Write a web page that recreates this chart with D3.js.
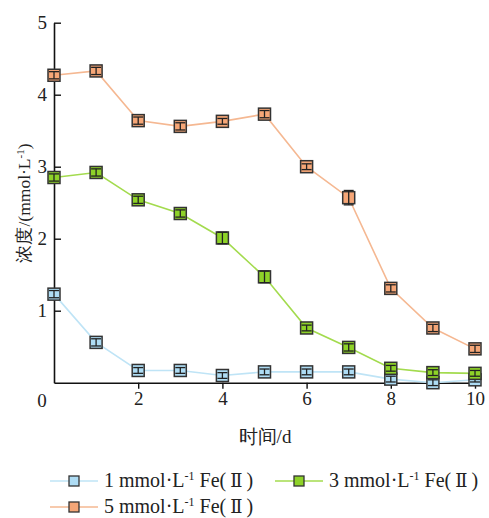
<!DOCTYPE html>
<html><head><meta charset="utf-8">
<script src="https://cdn.jsdelivr.net/npm/d3@7"></script>
<style>body{margin:0;background:#fff} svg text{font-family:"Liberation Serif","Times New Roman",serif;}</style>
</head><body>
<svg id="c" width="489" height="518"></svg>
<script>
const days = [0,1,2,3,4,5,6,7,8,9,10];
const s1 = [1.23,0.56,0.17,0.17,0.10,0.15,0.15,0.15,0.05,0.00,0.04];
const e1 = [0.05,0.05,0.04,0.04,0.04,0.04,0.04,0.04,0.04,0.04,0.03];
const s3 = [2.85,2.92,2.54,2.35,2.01,1.47,0.76,0.49,0.20,0.14,0.13];
const e3 = [0.05,0.05,0.05,0.05,0.08,0.08,0.04,0.05,0.04,0.04,0.04];
const s5 = [4.27,4.33,3.64,3.56,3.63,3.73,3.00,2.57,1.31,0.76,0.47];
const e5 = [0.05,0.05,0.05,0.05,0.04,0.05,0.04,0.10,0.05,0.05,0.05];
const seriesNames = ["1 mmol·L","3 mmol·L","5 mmol·L"];
const fills = ["#aedcf4","#8ed228","#f5a677"];
const lines = ["#bfe4f6","#a3db4e","#f5b892"];
const xTicks = [0,2,4,6,8,10];
const yTicks = [1,2,3,4,5];

const svg = d3.select("#c");
const x = d3.scaleLinear().domain([0,10]).range([54,475]);
const y = d3.scaleLinear().domain([0,5]).range([382.7,22.7]);

// axes
const gx = svg.append("g").attr("transform","translate(0,382.7)")
  .call(d3.axisBottom(x).tickValues(xTicks.filter(d=>d>0)).tickFormat(d3.format("d")).tickSize(6).tickPadding(3).tickSizeOuter(0));
const gy = svg.append("g").attr("transform","translate(54,0)")
  .call(d3.axisLeft(y).tickValues(yTicks).tickFormat(d3.format("d")).tickSize(-7).tickPadding(7).tickSizeOuter(0));
[gx,gy].forEach(g=>{
  g.attr("font-family",null).attr("font-size",null);
  g.select(".domain").attr("stroke","#111").attr("stroke-width",1.6);
  g.selectAll(".tick line").attr("stroke","#111").attr("stroke-width",1.4);
  g.selectAll(".tick text").style("font-size","19px").attr("fill","#222");
});
svg.append("text").attr("x",42).attr("y",407).attr("text-anchor","middle")
  .style("font-size","19px").attr("fill","#222").text("0");

// axis titles
svg.append("text").attr("x",265).attr("y",443).attr("text-anchor","middle")
  .style("font-size","19px").attr("fill","#222").text("时间/d");
const yt = svg.append("text").attr("transform","translate(30,203) rotate(-90)")
  .attr("text-anchor","middle").style("font-size","17.5px").attr("fill","#222");
yt.append("tspan").text("浓度/(mmol·L");
yt.append("tspan").attr("dy",-6).style("font-size","11px").text("-1");
yt.append("tspan").attr("dy",6).text(")");

const data = [[s1,e1],[s3,e3],[s5,e5]];
const line = d3.line().x((d,i)=>x(days[i])).y(d=>y(d));
const ms = 12;
data.forEach(([vals,errs],k)=>{
  svg.append("path").datum(vals).attr("d",line).attr("fill","none")
    .attr("stroke",lines[k]).attr("stroke-width",1.6);
});
data.forEach(([vals,errs],k)=>{
  const g = svg.append("g");
  vals.forEach((v,i)=>{
    const cx = x(days[i]), cy = y(v);
    g.append("rect").attr("x",cx-ms/2).attr("y",cy-ms/2).attr("width",ms).attr("height",ms)
      .attr("fill",fills[k]).attr("stroke","#333").attr("stroke-width",1.5);
    const y0 = y(v-errs[i]), y1 = y(v+errs[i]);
    g.append("line").attr("x1",cx).attr("x2",cx).attr("y1",y0).attr("y2",y1).attr("stroke","#222").attr("stroke-width",1.3);
    [y0,y1].forEach(yy=>g.append("line").attr("x1",cx-5).attr("x2",cx+5).attr("y1",yy).attr("y2",yy).attr("stroke","#222").attr("stroke-width",1.3));
  });
});

// legend
const legPos = [[50,481],[275,481],[50,507]];
legPos.forEach(([lx,ly],k)=>{
  svg.append("line").attr("x1",lx).attr("x2",lx+48).attr("y1",ly).attr("y2",ly)
    .attr("stroke",lines[k]).attr("stroke-width",1.6);
  svg.append("rect").attr("x",lx+24-5).attr("y",ly-5).attr("width",10).attr("height",10)
    .attr("fill",fills[k]).attr("stroke","#333").attr("stroke-width",1.3);
  const t = svg.append("text").attr("x",lx+54).attr("y",ly+6)
    .style("font-size","20px").attr("fill","#222");
  t.append("tspan").text(seriesNames[k]);
  t.append("tspan").attr("dy",-7).style("font-size","12px").text("-1");
  t.append("tspan").attr("dy",7).text(" Fe(\u2009");
  t.append("tspan").style("font-family","'DejaVu Serif'").style("font-size","18px").text("Ⅱ");
  t.append("tspan").text("\u2009)");
});
</script>
</body></html>
